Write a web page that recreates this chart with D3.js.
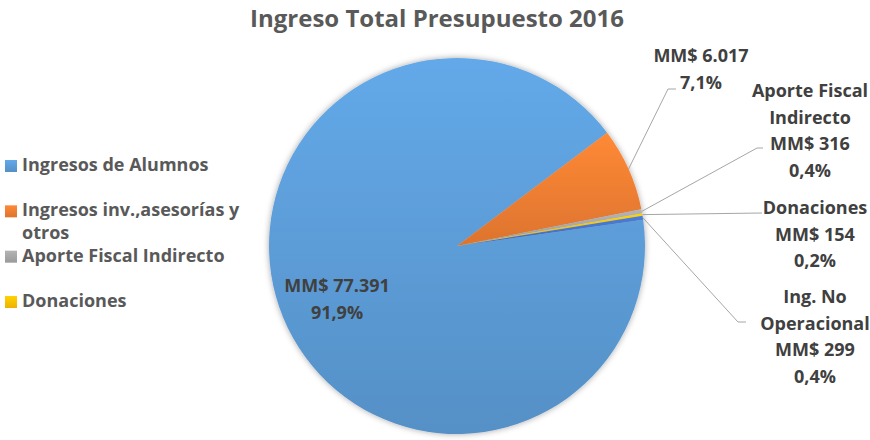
<!DOCTYPE html>
<html>
<head>
<meta charset="utf-8">
<script src="https://cdnjs.cloudflare.com/ajax/libs/d3/7.8.5/d3.min.js"></script>
<style>
  body { margin: 0; background: #fff; }
  text { font-family: "Open Sans", Lato, sans-serif; font-weight: bold; }
</style>
</head>
<body>
<div class="root"></div>
<script>
const categories = ["Ingresos de Alumnos", "Ingresos inv.,asesorías y otros", "Aporte Fiscal Indirecto", "Donaciones", "Ing. No Operacional"];
const values = [77391, 6017, 316, 154, 299];
const colors = ["#5B9BD5", "#ED7D31", "#A5A5A5", "#FFC000", "#4472C4"];
const legendItems = categories.slice(0, 4);

const w = 870;
const h = 440;
const cx = 457, cy = 246, r = 188;
const svg = d3.select(".root")
              .append("svg")
              .attr("width", w)
              .attr("height", h);

const defs = svg.append("defs");
colors.forEach((c, i) => {
  const g = defs.append("linearGradient")
                .attr("id", "grad" + i)
                .attr("x1", 0).attr("y1", 0).attr("x2", 0).attr("y2", 1);
  g.append("stop").attr("offset", "0%").attr("stop-color", d3.color(c).brighter(0.25));
  g.append("stop").attr("offset", "100%").attr("stop-color", d3.color(c).darker(0.2));
});
const shadow = defs.append("filter").attr("id", "shadow")
                   .attr("x", "-10%").attr("y", "-10%").attr("width", "120%").attr("height", "120%");
shadow.append("feDropShadow").attr("dx", 0).attr("dy", 0)
      .attr("stdDeviation", 3).attr("flood-color", "#000").attr("flood-opacity", 0.35);

// title
svg.append("text")
   .attr("x", 437)
   .attr("y", 27)
   .attr("text-anchor", "middle")
   .style("font-size", "24px")
   .style("fill", "#595959")
   .text("Ingreso Total Presupuesto 2016");

const total = d3.sum(values);
const start = 82 * Math.PI / 180;
const pie = d3.pie().sort(null).startAngle(start).endAngle(start + 2 * Math.PI);
const arcs = pie(values);
const arc = d3.arc().innerRadius(0).outerRadius(r);

const g = svg.append("g").attr("transform", "translate(" + cx + "," + cy + ")");
g.append("g").attr("filter", "url(#shadow)")
 .selectAll("path")
 .data(arcs)
 .enter()
 .append("path")
 .attr("d", arc)
 .attr("fill", (d, i) => "url(#grad" + i + ")");

const fmtNum = (v) => "MM$ " + d3.format(",")(v).replace(/,/g, ".");
const fmtPct = (v) => d3.format(".1f")(v / total * 100).replace(".", ",") + "%";

// point on the pie edge at the middle of a slice
const edge = (d) => {
  const a = (d.startAngle + d.endAngle) / 2;
  return [Math.sin(a) * r, -Math.cos(a) * r];
};

// label layout relative to pie center: text center, first baseline, leader bends
const layout = [
  { tx: -120, ty: 46, lines: [fmtNum(values[0]), fmtPct(values[0])] },
  { tx: 244, ty: -184, leader: [[211, -157], [219, -157]], lines: [fmtNum(values[1]), fmtPct(values[1])] },
  { tx: 353, ty: -149, leader: [[300, -98], [306, -98]], lines: ["Aporte Fiscal", "Indirecto", fmtNum(values[2]), fmtPct(values[2])] },
  { tx: 358, ty: -32, leader: [[305, -33]], lines: ["Donaciones", fmtNum(values[3]), fmtPct(values[3])] },
  { tx: 358, ty: 57, leader: [[281, 76], [289, 76]], lines: ["Ing. No", "Operacional", fmtNum(values[4]), fmtPct(values[4])] }
];

arcs.forEach((d, i) => {
  const L = layout[i];
  if (L.leader) {
    const pts = [edge(d)].concat(L.leader);
    g.append("path")
     .attr("d", d3.line()(pts))
     .attr("fill", "none")
     .attr("stroke", "#A6A6A6")
     .attr("stroke-width", 1);
  }
  const t = g.append("text")
             .attr("text-anchor", "middle")
             .style("font-size", "18px")
             .style("fill", "#404040");
  L.lines.forEach((s, k) => {
    t.append("tspan").attr("x", L.tx).attr("y", L.ty + k * 26.5).text(s);
  });
});

// legend
const legendY = d3.scalePoint().domain(legendItems).range([171, 307]);
const leg = svg.append("g").selectAll("g")
               .data(legendItems)
               .enter()
               .append("g")
               .attr("transform", (d) => "translate(5," + legendY(d) + ")");
leg.append("rect")
   .attr("x", 0).attr("y", -11)
   .attr("width", 12).attr("height", 12)
   .attr("fill", (d, i) => "url(#grad" + i + ")");
leg.each(function(d) {
  const t = d3.select(this).append("text")
              .attr("x", 17)
              .style("font-size", "18px")
              .style("fill", "#595959");
  if (d === categories[1]) {
    t.append("tspan").attr("x", 17).attr("y", 0).text("Ingresos inv.,asesorías y");
    t.append("tspan").attr("x", 17).attr("y", 23).text("otros");
  } else {
    t.text(d);
  }
});
</script>
</body>
</html>
